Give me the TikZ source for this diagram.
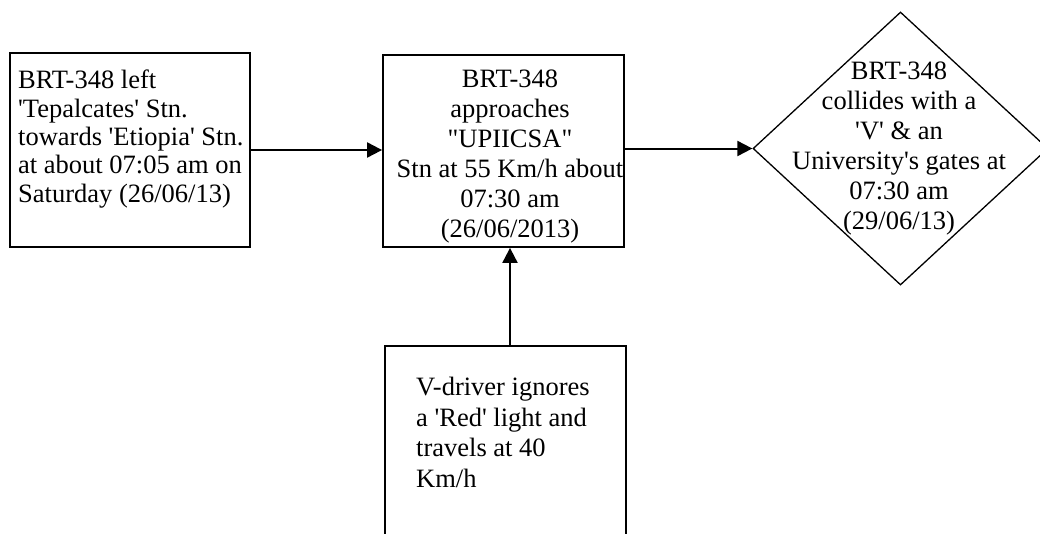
\documentclass[tikz,border=0pt]{standalone}
\usepackage{fontspec}
\setmainfont{Liberation Serif}
\usetikzlibrary{shapes.geometric,arrows.meta}
\newcommand{\sq}{\textquotesingle}
\newcommand{\dq}{\textquotedbl}
\tikzset{
  boxnode/.style={draw, line width=1.8pt, inner sep=0pt},
  decnode/.style={draw, diamond, line width=1.3pt, inner sep=0pt},
  txt/.style={inner sep=0pt},
  arr/.style={line width=2pt, -{Triangle[length=15pt,width=15pt]}},
}
\begin{document}
\begin{tikzpicture}[x=1pt,y=-1pt]
\useasboundingbox (0,0) rectangle (1040,533);
% boxes
\node[boxnode, minimum width=240pt, minimum height=194pt] (b1) at (130,150) {};
\node[boxnode, minimum width=241pt, minimum height=192pt] (b2) at (503.5,151) {};
\node[decnode, minimum width=295pt, minimum height=273pt] (d) at (900.5,148.5) {};
\node[boxnode, minimum width=241pt, minimum height=220pt] (b4) at (505.5,456) {};
% texts
\node[txt, anchor=north west, align=left, font=\fontsize{26.5}{28.3}\selectfont] (t1) at (18,70)
  {BRT-348 left\\\sq Tepalcates\sq{} Stn.\\towards \sq Etiopia\sq{} Stn.\\at about 07:05 am on\\Saturday (26/06/13)};
\node[txt, anchor=north, align=center, font=\fontsize{26.5}{30}\selectfont] (t2) at (510,69.8)
  {BRT-348\\approaches\\\dq UPIICSA\dq\\Stn at 55 Km/h about\\07:30 am\\(26/06/2013)};
\node[txt, anchor=north, align=center, font=\fontsize{26.5}{30.1}\selectfont] (t3) at (899,61.4)
  {BRT-348\\collides with a\\\sq V\sq{} \& an\\University\sq s gates at\\07:30 am\\(29/06/13)};
\node[txt, anchor=north west, align=left, font=\fontsize{26.5}{30.5}\selectfont] (t4) at (416,377)
  {V-driver ignores\\a \sq Red\sq{} light and\\travels at 40\\Km/h};
% connectors
\coordinate (c3) at (510,300);
\draw[arr] (b1.east) -- (b1.east -| b2.west);
\draw[arr] (d.west -| b2.east) -- (d.west);
\draw[arr] (c3 |- b4.north) -- (c3 |- b2.south);
\end{tikzpicture}
\end{document}
